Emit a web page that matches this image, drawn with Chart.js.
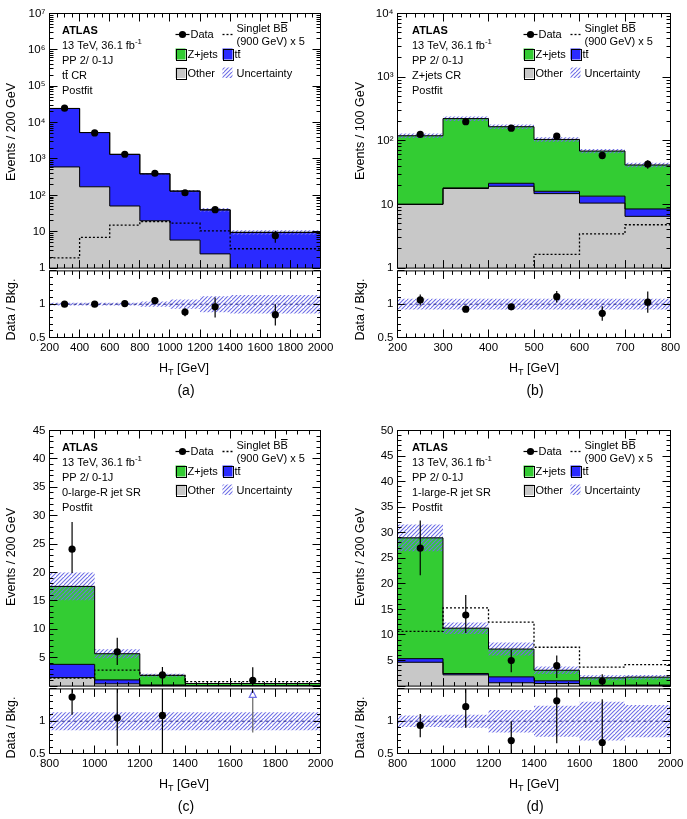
<!DOCTYPE html>
<html><head><meta charset="utf-8">
<script src="https://cdn.jsdelivr.net/npm/chart.js@4.4.1/dist/chart.umd.min.js"></script>
<style>
html,body{margin:0;padding:0;background:#fff;}
#wrap{position:relative;width:687px;height:819px;overflow:hidden;background:#fff;}
#wrap canvas{position:absolute;}
</style></head><body><div id="wrap"></div>
<script>
// ================= DATA =================
// ---- panel (a): ttbar CR (log) ----
const edgesA   = [200, 400, 600, 800, 1000, 1200, 1400, 2000];
const otherA   = [605, 172, 51, 20, 5.9, 2.46, 0.5];
const ttbarA   = [23900, 5160, 1290, 370, 125, 37.5, 9.1];
const zjetsA   = [0, 0, 0, 0, 0, 0, 0];
const uncRelA  = [0.02, 0.02, 0.02, 0.04, 0.07, 0.12, 0.14];
const signalA  = [1.9, 7.0, 15.2, 19, 17.2, 10.6, 3.4];
const dataXA   = [300, 500, 700, 900, 1100, 1300, 1700];
const dataA    = [25000, 5200, 1350, 405, 118, 40.5, 7.8];
const dataDnA  = [158, 72, 37, 20, 11, 6.4, 2.8];
const dataUpA  = [158, 72, 37, 20, 11, 6.4, 2.8];
const ratioA   = [1.0, 1.0, 1.01, 1.054, 0.882, 0.96, 0.843];
const ratioLoA = [0.99, 0.985, 0.98, 1.0, 0.82, 0.8, 0.68];
const ratioHiA = [1.01, 1.015, 1.04, 1.1, 0.94, 1.1, 1.0];
const xTicksA  = [200, 400, 600, 800, 1000, 1200, 1400, 1600, 1800, 2000];
const yTicksA  = [1, 10, 100, 1e3, 1e4, 1e5, 1e6, 1e7];
const yLabelsA = ['1', '10', '10²', '10³', '10⁴', '10⁵', '10⁶', '10⁷'];

// ---- panel (b): Z+jets CR (log) ----
const edgesB   = [200, 300, 400, 500, 600, 700, 800];
const otherB   = [10, 17.8, 19.3, 14.8, 10.5, 6.5];
const ttbarB   = [0.1, 0.4, 2.2, 1.3, 3.0, 2.0];
const zjetsB   = [110, 205, 145, 89, 55.5, 33.2];
const uncRelB  = [0.08, 0.08, 0.08, 0.08, 0.08, 0.08];
const signalB  = [0.3, 0.5, 0.8, 1.64, 3.44, 4.8];
const dataXB   = [250, 350, 450, 550, 650, 750];
const dataB    = [126, 200, 158, 118, 59, 43];
const dataDnB  = [11, 14, 12.6, 11, 7.7, 6.6];
const dataUpB  = [11, 14, 12.6, 11, 7.7, 6.6];
const ratioB   = [1.064, 0.926, 0.96, 1.113, 0.863, 1.03];
const ratioLoB = [0.98, 0.89, 0.92, 1.025, 0.75, 0.87];
const ratioHiB = [1.147, 0.96, 1.0, 1.2, 0.97, 1.19];
const xTicksB  = [200, 300, 400, 500, 600, 700, 800];
const yTicksB  = [1, 10, 100, 1e3, 1e4];
const yLabelsB = ['1', '10', '10²', '10³', '10⁴'];

// ---- panel (c): 0-large-R jet SR ----
const edgesC   = [800, 1000, 1200, 1400, 2000];
const otherC   = [1.5, 0.4, 0.1, 0.05];
const ttbarC   = [2.33, 0.69, 0.1, 0.02];
const zjetsC   = [13.72, 4.61, 1.7, 0.38];
const uncRelC  = [0.14, 0.14, 0.14, 0.14];
const signalC  = [1.4, 2.8, 1.9, 0.8];
const dataXC   = [900, 1100, 1300, 1700];
const dataC    = [24.1, 6.05, 1.96, 1.03];
const dataDnC  = [4.2, 2.35, 1.4, 0.85];
const dataUpC  = [4.8, 2.45, 1.4, 2.3];
const ratioXC  = [900, 1100, 1300];
const ratioC   = [1.375, 1.05, 1.09];
const ratioLoC = [1.1, 0.62, 0.45];
const ratioHiC = [1.7, 1.85, 2.1];
const arrowXC  = [1700];
const arrowLoC = [0.825];
const xTicksC  = [800, 1000, 1200, 1400, 1600, 1800, 2000];
const yTicksC  = [5, 10, 15, 20, 25, 30, 35, 40, 45];
const yLabelsC = ['5', '10', '15', '20', '25', '30', '35', '40', '45'];

// ---- panel (d): 1-large-R jet SR ----
const edgesD   = [800, 1000, 1200, 1400, 1600, 1800, 2000];
const otherD   = [4.66, 2.2, 0.65, 0.5, 0.1, 0.1];
const ttbarD   = [0.71, 0.26, 1.16, 0.54, 0.05, 0.1];
const zjetsD   = [23.63, 8.87, 5.44, 2.06, 1.47, 1.55];
const uncRelD  = [0.09, 0.1, 0.175, 0.24, 0.3, 0.25];
const signalD  = [10.7, 15.3, 12.5, 7.6, 3.7, 4.2];
const dataXD   = [900, 1100, 1300, 1500, 1700];
const dataD    = [27.0, 13.9, 5.0, 4.0, 1.0];
const dataDnD  = [5.3, 3.5, 2.3, 2.4, 0.8];
const dataUpD  = [5.4, 3.9, 2.1, 2.0, 1.3];
const ratioD   = [0.935, 1.225, 0.7, 1.315, 0.67];
const ratioLoD = [0.75, 0.9, 0.3, 0.66, 0.3];
const ratioHiD = [1.11, 1.6, 1.0, 1.9, 1.34];
const xTicksD  = [800, 1000, 1200, 1400, 1600, 1800, 2000];
const yTicksD  = [5, 10, 15, 20, 25, 30, 35, 40, 45, 50];
const yLabelsD = ['5', '10', '15', '20', '25', '30', '35', '40', '45', '50'];

// ratio axis
const rTicks  = [0.5, 1];
const rLabels = ['0.5', '1'];

// ================= STYLE / LAYOUT =================
const FONT = '"Liberation Sans", Arial, Helvetica, sans-serif';
Chart.defaults.font.family = FONT;
Chart.defaults.color = '#000';
const C_GRAY = '#c8c8c8', C_GREEN = '#33cc33', C_BLUE = '#2a2aff', C_HATCH = '#6f6fe6', C_NAVY = '#2b2b8c';
const COLS = [{x0: 0, w: 344, L: 49.5, R: 320.5, infoX: 62, titleX: 12, xTitleX: 184, labX: 186},
              {x0: 343, w: 344, L: 397.5, R: 670.5, infoX: 412, titleX: 361, xTitleX: 534, labX: 535}];
const ROWS = [{T: 13.5, M: 269.5, B: 337.5, end: 405},
              {T: 430.5, M: 687.5, B: 753.5, end: 819}];

const wrap = document.getElementById('wrap');
const decorMap = new WeakMap();

function fnt(sz, bold, italic) { return (italic ? 'italic ' : '') + (bold ? 'bold ' : '') + sz + 'px ' + FONT; }

function drawRich(ctx, segs, x, cy, sz, align) {
  const base = cy + 0.36 * sz;
  let w = 0; const ms = [];
  for (const s of segs) {
    const fs = (s.sup || s.sub) ? sz * 0.72 : sz;
    ctx.font = fnt(fs, s.bold, s.italic);
    const mw = ctx.measureText(s.t).width;
    ms.push({fs, mw}); w += mw;
  }
  let cx = align === 'center' ? x - w / 2 : (align === 'right' ? x - w : x);
  segs.forEach((s, i) => {
    const {fs, mw} = ms[i];
    ctx.font = fnt(fs, s.bold, s.italic);
    const dy = s.sup ? -0.42 * sz : (s.sub ? 0.24 * sz : 0);
    ctx.textAlign = 'left'; ctx.textBaseline = 'alphabetic';
    ctx.fillText(s.t, cx, base + dy);
    if (s.bar) {
      const lw = ctx.measureText(s.t.slice(-1)).width;
      const by = Math.round(base + dy - s.bar * fs) + 0.5;
      ctx.beginPath(); ctx.lineWidth = 1; ctx.strokeStyle = '#000';
      ctx.moveTo(cx + mw - lw + 0.5, by); ctx.lineTo(cx + mw - 0.3, by); ctx.stroke();
    }
    cx += mw;
  });
  return w;
}

function makeHatch(ctx) {
  const p = document.createElement('canvas'); p.width = 8; p.height = 8;
  const g = p.getContext('2d');
  g.clearRect(0, 0, 8, 8);
  g.strokeStyle = C_HATCH; g.lineWidth = 1.1;
  g.beginPath();
  for (let k = -2; k <= 3; k++) { g.moveTo(-2, 4 * k + 2); g.lineTo(4 * k + 2, -2); }
  g.stroke();
  return ctx.createPattern(p, 'repeat');
}

function addCanvas(left, top, w, h) {
  const c = document.createElement('canvas');
  c.width = w; c.height = h;
  c.style.left = left + 'px'; c.style.top = top + 'px';
  c.style.width = w + 'px'; c.style.height = h + 'px';
  wrap.appendChild(c);
  return c;
}

function stepData(edges, vals) { return edges.map((e, i) => ({x: e, y: vals[Math.min(i, vals.length - 1)]})); }
function lineDS(pts, o) {
  return Object.assign({type: 'line', data: pts, stepped: true, pointRadius: 0, borderWidth: 1,
    borderColor: '#000', fill: false, tension: 0}, o);
}
function pointDS(xs, ys) {
  return {type: 'line', data: xs.map((x, i) => ({x, y: ys[i]})), showLine: false, pointRadius: 3.6,
    pointBorderWidth: 0, pointBackgroundColor: '#000', borderColor: '#000', backgroundColor: '#000'};
}

function tickList(min, max, minor, major) {
  const out = [];
  for (let n = Math.ceil(min / minor - 1e-9); n * minor <= max + 1e-9; n++) {
    const v = n * minor; const r = v / major;
    out.push({v, major: Math.abs(r - Math.round(r)) < 1e-6});
  }
  return out;
}
function logTickList(min, max) {
  const out = [];
  for (let k = Math.floor(Math.log10(min)); k <= Math.ceil(Math.log10(max)); k++) {
    for (let m = 1; m <= 9; m++) {
      const v = m * Math.pow(10, k);
      if (v >= min * 0.999999 && v <= max * 1.000001) out.push({v, major: m === 1});
    }
  }
  return out;
}

const decorPlugin = {
  id: 'decor',
  afterDraw(chart) {
    const cfg = decorMap.get(chart.canvas); if (!cfg) return;
    const ctx = chart.ctx, a = chart.chartArea, xs = chart.scales.x, ys = chart.scales.y;
    ctx.save();
    ctx.save();
    ctx.beginPath(); ctx.rect(a.left, a.top, a.right - a.left, a.bottom - a.top); ctx.clip();
    ctx.strokeStyle = '#000'; ctx.lineWidth = 1.2;
    for (const e of cfg.errs) {
      const px = xs.getPixelForValue(e.x);
      ctx.beginPath(); ctx.moveTo(px, ys.getPixelForValue(Math.max(e.lo, 1e-9)));
      ctx.lineTo(px, ys.getPixelForValue(e.hi)); ctx.stroke();
    }
    for (const ar of (cfg.arrows || [])) {
      const px = xs.getPixelForValue(ar.x);
      const yTipTop = a.top + 1.5, yTipBase = a.top + 8.5;
      ctx.strokeStyle = '#666'; ctx.lineWidth = 1.2;
      ctx.beginPath(); ctx.moveTo(px, ys.getPixelForValue(ar.lo)); ctx.lineTo(px, yTipBase); ctx.stroke();
      ctx.fillStyle = '#fff'; ctx.strokeStyle = C_HATCH; ctx.lineWidth = 1.2;
      ctx.beginPath(); ctx.moveTo(px, yTipTop); ctx.lineTo(px + 3.5, yTipBase); ctx.lineTo(px - 3.5, yTipBase); ctx.closePath();
      ctx.fill(); ctx.stroke();
    }
    ctx.restore();
    ctx.strokeStyle = '#000'; ctx.lineWidth = 1;
    ctx.strokeRect(a.left, a.top, a.right - a.left, a.bottom - a.top);
    ctx.beginPath();
    for (const t of tickList(xs.min, xs.max, cfg.xMinor, cfg.xMajor)) {
      const px = Math.round(xs.getPixelForValue(t.v) - 0.5) + 0.5;
      const len = t.major ? cfg.xLen[0] : cfg.xLen[1];
      ctx.moveTo(px, a.bottom); ctx.lineTo(px, a.bottom - len);
      ctx.moveTo(px, a.top); ctx.lineTo(px, a.top + len);
    }
    const yt = cfg.yLog ? logTickList(ys.min, ys.max) : tickList(ys.min, ys.max, cfg.yMinor, cfg.yMajor);
    for (const t of yt) {
      const py = Math.round(ys.getPixelForValue(t.v) - 0.5) + 0.5;
      const len = t.major ? cfg.yLen[0] : cfg.yLen[1];
      ctx.moveTo(a.left, py); ctx.lineTo(a.left + len, py);
      ctx.moveTo(a.right, py); ctx.lineTo(a.right - len, py);
    }
    ctx.stroke();
    ctx.translate(-cfg.offX, -cfg.offY);
    ctx.fillStyle = '#000';
    cfg.draw(ctx);
    ctx.restore();
  }
};
Chart.register(decorPlugin);

function rotTitle(ctx, text, x, y, sz) {
  ctx.save(); ctx.translate(x, y); ctx.rotate(-Math.PI / 2);
  ctx.font = fnt(sz); ctx.textAlign = 'center'; ctx.textBaseline = 'middle';
  ctx.fillText(text, 0, 0); ctx.restore();
}

function box(ctx, x, y, w, h, fill, border) {
  ctx.fillStyle = fill; ctx.fillRect(x, y, w, h);
  if (border) { ctx.strokeStyle = '#000'; ctx.lineWidth = 1; ctx.strokeRect(Math.round(x) + 0.5, Math.round(y) + 0.5, Math.round(w), Math.round(h)); }
  ctx.fillStyle = '#000';
}

function drawLegend(ctx, L, T, pat) {
  const s = 11;
  ctx.fillStyle = '#000'; ctx.strokeStyle = '#000'; ctx.lineWidth = 1.2;
  ctx.beginPath(); ctx.moveTo(L + 126, T + 21); ctx.lineTo(L + 140, T + 21); ctx.stroke();
  ctx.beginPath(); ctx.arc(L + 133, T + 21, 3.6, 0, 2 * Math.PI); ctx.fill();
  drawRich(ctx, [{t: 'Data'}], L + 141, T + 21, s);
  ctx.setLineDash([2, 2]); ctx.lineWidth = 1.3;
  ctx.beginPath(); ctx.moveTo(L + 173, T + 21); ctx.lineTo(L + 184, T + 21); ctx.stroke();
  ctx.setLineDash([]);
  drawRich(ctx, [{t: 'Singlet BB', bar: 0.86}], L + 187, T + 14.3, s);
  drawRich(ctx, [{t: '(900 GeV) x 5'}], L + 187, T + 27.7, s);
  box(ctx, L + 126, T + 35, 10, 11, C_GREEN, true);
  drawRich(ctx, [{t: 'Z+jets'}], L + 138, T + 41, s);
  box(ctx, L + 173, T + 35, 10, 11, C_BLUE, true);
  drawRich(ctx, [{t: 'tt', bar: 0.8}], L + 185, T + 41, s);
  box(ctx, L + 126, T + 54, 10, 10.5, C_GRAY, true);
  drawRich(ctx, [{t: 'Other'}], L + 138, T + 59.5, s);
  box(ctx, L + 173, T + 54, 10, 10.5, pat, false);
  drawRich(ctx, [{t: 'Uncertainty'}], L + 187, T + 59.5, s);
}

function labelFor(labels) { return (v, i) => labels[i]; }

function makePanel(p) {
  const col = COLS[p.col], row = ROWS[p.row];
  const edges = p.edges, xMin = edges[0], xMax = edges[edges.length - 1];

  // ---------- main ----------
  const mTop = row.T - 13.5;
  const mH = Math.ceil(row.M + 9.5 - mTop);
  const mc = addCanvas(col.x0, mTop, col.w, mH);
  const pat = makeHatch(mc.getContext('2d'));
  const ttcum = p.other.map((v, i) => v + p.ttbar[i]);
  const total = ttcum.map((v, i) => v + p.zjets[i]);
  const uHi = total.map((v, i) => v * (1 + p.unc[i]));
  const uLo = total.map((v, i) => v * (1 - p.unc[i]));
  decorMap.set(mc, {
    offX: col.x0, offY: mTop,
    errs: p.dataX.map((x, i) => ({x, lo: p.data[i] - p.dn[i], hi: p.data[i] + p.up[i]})),
    xMinor: p.xMinor, xMajor: p.xMajor, xLen: [8, 4],
    yLog: p.log, yMinor: 1, yMajor: 5, yLen: [8, 4],
    draw(ctx) {
      rotTitle(ctx, p.yTitle, col.titleX, p.yTitleY, 12.5);
      const info = [
        [{t: 'ATLAS', bold: true}],
        [{t: '13 TeV, 36.1 fb'}, {t: '-1', sup: true}],
        [{t: 'PP 2/ 0-1J'}],
        p.region,
        [{t: 'Postfit'}]
      ];
      info.forEach((segs, i) => drawRich(ctx, segs, col.infoX, row.T + 16.5 + i * 14.9, 11));
      drawLegend(ctx, col.L, row.T, pat);
    }
  });
  const yAxis = p.log
    ? {type: 'logarithmic', min: p.yMin, max: p.yMax}
    : {type: 'linear', min: 0, max: p.yMax};
  Object.assign(yAxis, {
    grid: {display: false, drawTicks: false}, border: {display: false},
    ticks: {autoSkip: false, padding: 4, font: {size: 11.5}, callback: labelFor(p.yLabels)},
    afterBuildTicks: s => { s.ticks = p.yTicks.map(v => ({value: v})); },
    afterFit: s => { s.width = col.L - col.x0; }
  });
  new Chart(mc, {
    type: 'line',
    data: {datasets: [
      pointDS(p.dataX, p.data),
      lineDS(stepData(edges, p.signal), {borderDash: [2, 2], borderWidth: 1.3}),
      lineDS(stepData(edges, uHi), {borderColor: 'rgba(0,0,0,0)', fill: '+1', backgroundColor: pat}),
      lineDS(stepData(edges, uLo), {borderColor: 'rgba(0,0,0,0)'}),
      lineDS(stepData(edges, total), {fill: '+1', backgroundColor: C_GREEN}),
      lineDS(stepData(edges, ttcum), {fill: '+1', backgroundColor: C_BLUE}),
      lineDS(stepData(edges, p.other), {fill: 'start', backgroundColor: C_GRAY})
    ]},
    options: {
      responsive: false, animation: false, devicePixelRatio: 1, events: [],
      layout: {padding: {left: 0, top: 13.5, right: col.w - (col.R - col.x0), bottom: mH - (row.M - mTop)}},
      plugins: {legend: {display: false}, tooltip: {enabled: false}, filler: {drawTime: 'beforeDatasetsDraw'}},
      scales: {
        x: {type: 'linear', min: xMin, max: xMax, display: false},
        y: yAxis
      }
    }
  });

  // ---------- ratio ----------
  const rTop = Math.floor(row.M - 9.5);
  const rH = row.end - rTop;
  const rc = addCanvas(col.x0, rTop, col.w, rH);
  const pat2 = makeHatch(rc.getContext('2d'));
  const rx = p.ratioX || p.dataX;
  decorMap.set(rc, {
    offX: col.x0, offY: rTop,
    errs: rx.map((x, i) => ({x, lo: p.rLo[i], hi: p.rHi[i]})),
    arrows: (p.arrowX || []).map((x, i) => ({x, lo: p.arrowLo[i]})),
    xMinor: p.xMinor, xMajor: p.xMajor, xLen: [8, 4],
    yLog: false, yMinor: 0.1, yMajor: 0.5, yLen: [7, 3.5],
    draw(ctx) {
      rotTitle(ctx, 'Data / Bkg.', col.titleX, row.M + 40, 12.5);
      drawRich(ctx, [{t: 'H'}, {t: 'T', sub: true}, {t: ' [GeV]'}], col.xTitleX, row.B + 30, 12.5, 'center');
      drawRich(ctx, [{t: p.label}], col.labX, row.B + 52, 14, 'center');
    }
  });
  new Chart(rc, {
    type: 'line',
    data: {datasets: [
      pointDS(rx, p.ratio),
      lineDS([{x: xMin, y: 1}, {x: xMax, y: 1}], {stepped: false, borderColor: C_NAVY, borderDash: [3, 3], borderWidth: 1}),
      lineDS(stepData(edges, p.unc.map(u => 1 + u)), {borderColor: 'rgba(0,0,0,0)', fill: '+1', backgroundColor: pat2}),
      lineDS(stepData(edges, p.unc.map(u => 1 - u)), {borderColor: 'rgba(0,0,0,0)'})
    ]},
    options: {
      responsive: false, animation: false, devicePixelRatio: 1, events: [],
      layout: {padding: {left: 0, top: row.M - rTop, right: col.w - (col.R - col.x0), bottom: rH - (row.B - rTop) - 20}},
      plugins: {legend: {display: false}, tooltip: {enabled: false}, filler: {drawTime: 'beforeDatasetsDraw'}},
      scales: {
        x: {type: 'linear', min: xMin, max: xMax,
            grid: {display: false, drawTicks: false}, border: {display: false},
            ticks: {autoSkip: false, maxRotation: 0, minRotation: 0, padding: 3, font: {size: 11.5},
                    callback: labelFor(p.xTicks.map(String))},
            afterBuildTicks: s => { s.ticks = p.xTicks.map(v => ({value: v})); },
            afterFit: s => { s.height = 20; }},
        y: {type: 'linear', min: 0.5, max: 1.5,
            grid: {display: false, drawTicks: false}, border: {display: false},
            ticks: {autoSkip: false, padding: 4, font: {size: 11.5}, callback: labelFor(rLabels)},
            afterBuildTicks: s => { s.ticks = rTicks.map(v => ({value: v})); },
            afterFit: s => { s.width = col.L - col.x0; }}
      }
    }
  });
}

makePanel({col: 0, row: 0, log: true, yMin: 1, yMax: 1e7, edges: edgesA, other: otherA, ttbar: ttbarA, zjets: zjetsA,
  unc: uncRelA, signal: signalA, dataX: dataXA, data: dataA, dn: dataDnA, up: dataUpA,
  ratio: ratioA, rLo: ratioLoA, rHi: ratioHiA, xTicks: xTicksA, yTicks: yTicksA, yLabels: yLabelsA,
  xMajor: 200, xMinor: 50, yTitle: 'Events / 200 GeV', yTitleY: 132,
  region: [{t: 'tt', bar: 0.8}, {t: ' CR'}], label: '(a)'});
makePanel({col: 1, row: 0, log: true, yMin: 1, yMax: 1e4, edges: edgesB, other: otherB, ttbar: ttbarB, zjets: zjetsB,
  unc: uncRelB, signal: signalB, dataX: dataXB, data: dataB, dn: dataDnB, up: dataUpB,
  ratio: ratioB, rLo: ratioLoB, rHi: ratioHiB, xTicks: xTicksB, yTicks: yTicksB, yLabels: yLabelsB,
  xMajor: 100, xMinor: 20, yTitle: 'Events / 100 GeV', yTitleY: 131,
  region: [{t: 'Z+jets CR'}], label: '(b)'});
makePanel({col: 0, row: 1, log: false, yMax: 45, edges: edgesC, other: otherC, ttbar: ttbarC, zjets: zjetsC,
  unc: uncRelC, signal: signalC, dataX: dataXC, data: dataC, dn: dataDnC, up: dataUpC,
  ratioX: ratioXC, ratio: ratioC, rLo: ratioLoC, rHi: ratioHiC, arrowX: arrowXC, arrowLo: arrowLoC,
  xTicks: xTicksC, yTicks: yTicksC, yLabels: yLabelsC,
  xMajor: 200, xMinor: 50, yTitle: 'Events / 200 GeV', yTitleY: 557,
  region: [{t: '0-large-R jet SR'}], label: '(c)'});
makePanel({col: 1, row: 1, log: false, yMax: 50, edges: edgesD, other: otherD, ttbar: ttbarD, zjets: zjetsD,
  unc: uncRelD, signal: signalD, dataX: dataXD, data: dataD, dn: dataDnD, up: dataUpD,
  ratio: ratioD, rLo: ratioLoD, rHi: ratioHiD, xTicks: xTicksD, yTicks: yTicksD, yLabels: yLabelsD,
  xMajor: 200, xMinor: 50, yTitle: 'Events / 200 GeV', yTitleY: 557,
  region: [{t: '1-large-R jet SR'}], label: '(d)'});
</script>
</body></html>
